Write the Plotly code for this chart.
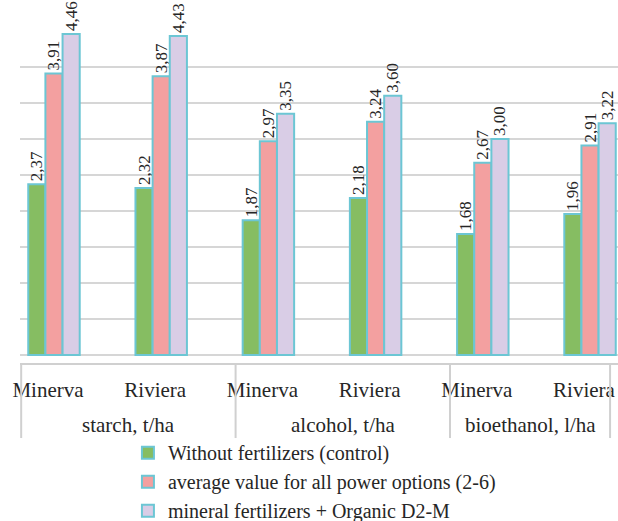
import plotly.graph_objects as go

groups = ["starch, t/ha", "alcohol, t/ha", "bioethanol, l/ha"]
varieties = ["Minerva", "Riviera"]
series_names = [
    "Without fertilizers (control)",
    "average value for all power options (2-6)",
    "mineral fertilizers + Organic D2-M",
]
control = [2.37, 2.32, 1.87, 2.18, 1.68, 1.96]
average = [3.91, 3.87, 2.97, 3.24, 2.67, 2.91]
mineral_organic = [4.46, 4.43, 3.35, 3.60, 3.00, 3.22]

colors = ["#86bd62", "#f3a0a0", "#d9cde6"]
edge = "#6cc6d4"
font_family = "Liberation Serif"
text_color = "#262626"

categories = [f"{g}|{v}" for g in groups for v in varieties]
tick_text = [v for g in groups for v in varieties]
tick_pos = list(range(len(categories)))

fig = go.Figure()
for name, vals, col in zip(series_names, [control, average, mineral_organic], colors):
    fig.add_trace(go.Bar(
        x=categories, y=vals, name=name,
        marker=dict(color=col, line=dict(color=edge, width=2)),
        texttemplate="%{y:.2f}", textposition="outside", textangle=-90,
        constraintext="none",
        textfont=dict(family=font_family, size=17, color=text_color),
        cliponaxis=False,
    ))

# group dividers below the axis (positions on the label axis)
divider_pos = [-0.25, 1.75, 3.75, 5.243]
for pos in divider_pos:
    fig.add_shape(type="line", xref="x2", yref="paper", x0=pos, x1=pos, y0=0, y1=-0.226,
                  line=dict(color="#d0d0d0", width=2))

# group labels centred between dividers
for k, g in enumerate(groups):
    cx = (divider_pos[k] + divider_pos[k + 1]) / 2
    fig.add_annotation(text=g, xref="x2", yref="paper", x=cx, y=-0.187,
                       showarrow=False, xanchor="center", yanchor="middle",
                       font=dict(family=font_family, size=21, color=text_color))

fig.update_layout(
    width=618, height=521,
    margin=dict(l=20, r=0, t=31, b=158, autoexpand=False),
    paper_bgcolor="white", plot_bgcolor="white",
    barmode="group", bargap=0.52, bargroupgap=0,
    separators=", ",
    font=dict(family=font_family, size=21, color=text_color),
    showlegend=True,
    legend=dict(orientation="v", xref="container", yref="container",
                x=0.207, xanchor="left", y=0.1686, yanchor="top",
                font=dict(family=font_family, size=20, color=text_color),
                tracegroupgap=0, itemclick=False, bgcolor="rgba(0,0,0,0)"),
    xaxis=dict(type="category", categoryorder="array", categoryarray=categories,
               range=[-0.317, 5.261], showline=True, linecolor="#d0d0d0", linewidth=2,
               showgrid=False, ticks="", showticklabels=False, automargin=False),
    xaxis2=dict(overlaying="x", anchor="y", side="bottom", range=[-0.261, 5.317],
                tickmode="array", tickvals=tick_pos, ticktext=tick_text,
                showgrid=False, zeroline=False, showline=False, ticks="",
                ticklabelstandoff=12, automargin=False,
                tickfont=dict(family=font_family, size=21, color=text_color)),
    yaxis=dict(range=[-0.111, 4.5], tick0=0, dtick=0.5, showgrid=True,
               gridcolor="#d6d6d6", gridwidth=2, zeroline=False,
               showticklabels=False, ticks="", showline=False, automargin=False),
)

fig.write_html("out.html", config={"displayModeBar": False},
               post_script="document.body.style.margin='0';")
